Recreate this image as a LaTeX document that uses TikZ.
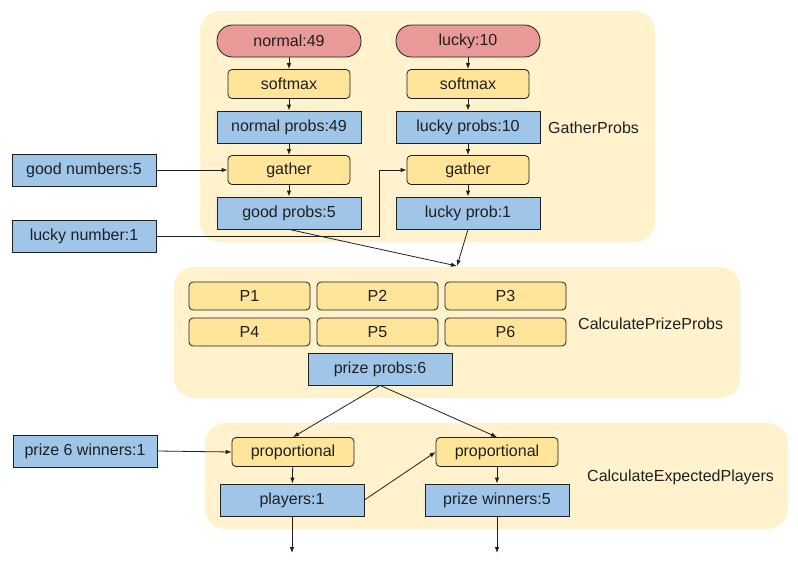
\documentclass[tikz,border=0pt]{standalone}
\usepackage{fontspec}
\setmainfont{Liberation Sans}
\usetikzlibrary{arrows.meta}
\definecolor{grp}{HTML}{FFF2CC}
\definecolor{opc}{HTML}{FFE599}
\definecolor{tnc}{HTML}{9FC5E8}
\definecolor{inc}{HTML}{EA9999}
\definecolor{ink}{HTML}{202020}
\begin{document}
\begin{tikzpicture}[x=1pt,y=-1pt,
  every node/.style={font=\fontsize{16}{19}\selectfont, text=ink, inner sep=0pt},
  group/.style={fill=grp, rounded corners=20pt},
  inbox/.style={draw=ink, line width=0.8pt, fill=inc, rounded corners=15.5pt, minimum width=144pt, minimum height=32pt},
  opbox/.style={draw=ink, line width=0.8pt, fill=opc, rounded corners=4pt, minimum width=122pt, minimum height=29pt},
  pbox/.style={draw=ink, line width=0.8pt, fill=opc, rounded corners=4pt, minimum width=121pt, minimum height=28pt},
  tbox/.style={draw=ink, line width=0.8pt, fill=tnc, minimum width=144pt, minimum height=32pt},
  glabel/.style={anchor=west},
  arr/.style={draw=ink, line width=0.8pt, -{Latex[length=6pt,width=4.5pt]}}
]
\useasboundingbox (0,0) rectangle (798,560);
% groups
\fill[group] (200,11) rectangle (655,242);
\fill[group] (174,267) rectangle (740,398);
\fill[group] (205,423) rectangle (788,529);
% GatherProbs
\node[inbox] (n49) at (289,41) {normal:49};
\node[inbox] (l10) at (468,41) {lucky:10};
\node[opbox] (sm1) at (289,84) {softmax};
\node[opbox] (sm2) at (468,84) {softmax};
\node[tbox] (np) at (289,127) {normal probs:49};
\node[tbox] (lp10) at (468,127) {lucky probs:10};
\node[glabel] (gpl) at (548,128) {GatherProbs};
\node[opbox] (g1) at (289,170) {gather};
\node[opbox] (g2) at (468,170) {gather};
\node[tbox] (gp) at (289,213) {good probs:5};
\node[tbox] (lp1) at (468,213) {lucky prob:1};
\node[tbox] (gn) at (84,170) {good numbers:5};
\node[tbox] (ln) at (84,236) {lucky number:1};
% CalculatePrizeProbs
\node[pbox] (p1) at (249.5,296) {P1};
\node[pbox] (p2) at (377.5,296) {P2};
\node[pbox] (p3) at (505.5,296) {P3};
\node[pbox] (p4) at (249.5,332) {P4};
\node[pbox] (p5) at (377.5,332) {P5};
\node[pbox] (p6) at (505.5,332) {P6};
\node[glabel] (cpl) at (578,324) {CalculatePrizeProbs};
\node[tbox] (pp) at (380,369) {prize probs:6};
% CalculateExpectedPlayers
\node[tbox] (p6w) at (85,451) {prize 6 winners:1};
\node[opbox] (pr1) at (293,452) {proportional};
\node[opbox] (pr2) at (497,452) {proportional};
\node[tbox] (pl) at (292,500) {players:1};
\node[tbox] (pw) at (497,500) {prize winners:5};
\node[glabel] (cel) at (587,477) {CalculateExpectedPlayers};
% coordinates
\coordinate (bend) at (379,236);
\coordinate (merge) at (457,266);
\coordinate (out1) at (292,553);
\coordinate (out2) at (497,553);
% connectors
\draw[arr] (n49) -- (sm1);
\draw[arr] (l10) -- (sm2);
\draw[arr] (sm1) -- (np);
\draw[arr] (sm2) -- (lp10);
\draw[arr] (np) -- (g1);
\draw[arr] (lp10) -- (g2);
\draw[arr] (g1) -- (gp);
\draw[arr] (g2) -- (lp1);
\draw[arr] (gn.east) -- (g1.west);
\draw[arr] (ln.east) -- (bend) |- (g2.west);
\draw[arr] (gp.south) -- (merge);
\draw[arr] (lp1.south) -- (merge);
\draw[arr] (pp.south) -- (pr1.north);
\draw[arr] (pp.south) -- (pr2.north);
\draw[arr] (p6w.east) -- (pr1.west);
\draw[arr] (pr1) -- (pl);
\draw[arr] (pr2) -- (pw);
\draw[arr] (pl.east) -- (pr2.west);
\draw[arr] (pl.south) -- (out1);
\draw[arr] (pw.south) -- (out2);
\end{tikzpicture}
\end{document}
